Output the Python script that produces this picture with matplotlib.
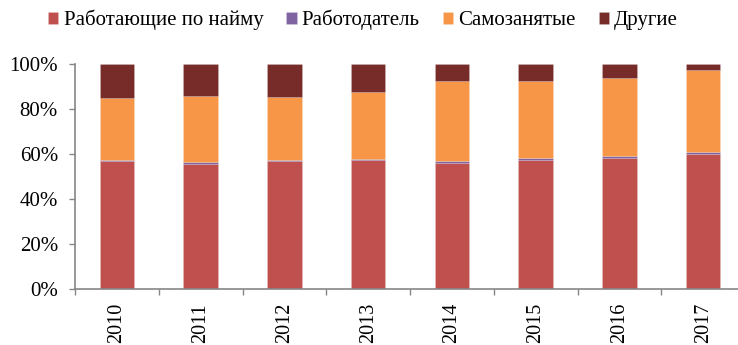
import matplotlib
matplotlib.use("Agg")
import matplotlib.pyplot as plt
import numpy as np
from matplotlib.ticker import FuncFormatter

years = ["2010", "2011", "2012", "2013", "2014", "2015", "2016", "2017"]
employees = [56.8, 55.5, 56.8, 57.2, 56.0, 57.4, 58.3, 59.9]
employers = [0.6, 0.8, 0.5, 0.5, 1.1, 0.7, 0.8, 1.0]
self_employed = [27.5, 29.7, 28.3, 30.1, 35.3, 34.6, 34.9, 36.7]
others = [15.1, 14.0, 14.4, 12.2, 7.6, 7.3, 6.0, 2.4]

series_names = ["Работающие по найму", "Работодатель", "Самозанятые", "Другие"]
colors = ["#C0504D", "#8064A2", "#F79646", "#772C2A"]

plt.rcParams["font.family"] = ["Liberation Serif", "DejaVu Serif"]

W, H = 738, 345
fig = plt.figure(figsize=(W / 100, H / 100), dpi=100)
ax = fig.add_axes([75 / W, 56 / H, 670 / W, 224.7 / H])

x = np.arange(len(years))
bottom = np.zeros(len(years))
handles = []
for vals, name, col in zip([employees, employers, self_employed, others], series_names, colors):
    v = np.array(vals)
    b = ax.bar(x, v, 0.41, bottom=bottom, color=col, label=name,
               edgecolor=(1, 1, 1, 0.25), linewidth=0.4)
    handles.append(b)
    bottom += v

ax.set_xlim(-0.5, len(years) - 0.5)
ax.set_ylim(0, 100)
ax.set_yticks(np.arange(0, 101, 20))
ax.yaxis.set_major_formatter(FuncFormatter(lambda v, p: f"{int(v)}%"))
ax.set_xticks(np.arange(-0.5, len(years) - 0.5, 1), minor=False)
ax.set_xticks(x, minor=True)
ax.set_xticklabels([])
ax.set_xticklabels(years, minor=True, rotation=90, fontsize=14.5)
ax.tick_params(axis="x", which="minor", length=0, pad=10)
ax.tick_params(axis="x", which="major", length=4.3, color="#868686", width=1)
ax.tick_params(axis="y", length=4.3, color="#868686", width=1, labelsize=15, pad=8)

for s in ["top", "right"]:
    ax.spines[s].set_visible(False)
for s in ["left", "bottom"]:
    ax.spines[s].set_color("#868686")
    ax.spines[s].set_linewidth(1.2)

leg = fig.legend(handles=handles, labels=series_names, loc="center",
                 bbox_to_anchor=(363 / W, 1 - 20 / H), ncol=4, frameon=False,
                 fontsize=15, handlelength=0.5, handleheight=0.5,
                 handletextpad=0.25, columnspacing=1.1, borderaxespad=0)

fig.savefig("out.png", dpi=100)
